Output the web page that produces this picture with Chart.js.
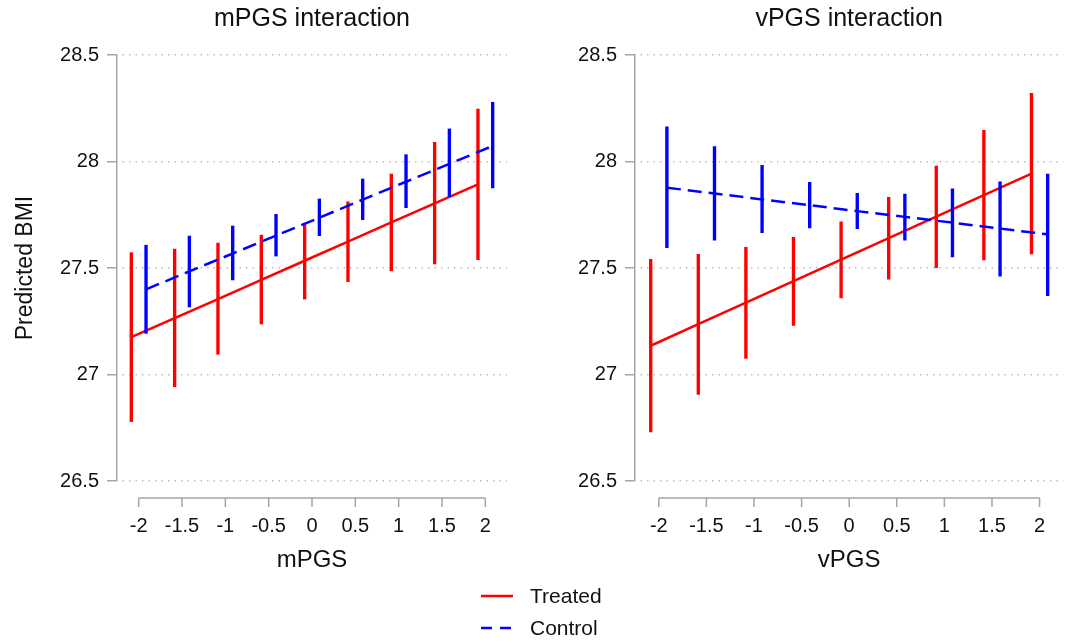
<!DOCTYPE html>
<html>
<head>
<meta charset="utf-8">
<script src="https://cdn.jsdelivr.net/npm/chart.js@4.4.1/dist/chart.umd.min.js"></script>
<style>
  body { margin: 0; background: #fff; width: 1079px; height: 643px; overflow: hidden; position: relative;
         font-family: "Liberation Sans", Arial, sans-serif; }
  #left { position: absolute; left: 0; top: 0; }
  #right { position: absolute; left: 540px; top: 0; }
  #legend { position: absolute; left: 481px; top: 580px; font-size: 21px; color: #111; }
  .item { display: flex; align-items: center; height: 32px; }
  .item svg { margin-right: 17px; }
</style>
</head>
<body>
<canvas id="left" width="540" height="643"></canvas>
<canvas id="right" width="539" height="643"></canvas>
<div id="legend">
  <div class="item"><svg width="32" height="4"><line x1="0" y1="2" x2="32" y2="2" stroke="#ff0000" stroke-width="2.5"/></svg>Treated</div>
  <div class="item"><svg width="32" height="4"><line x1="0" y1="2" x2="32" y2="2" stroke="#0000ff" stroke-width="2.5" stroke-dasharray="11 8"/></svg>Control</div>
</div>
<script>
// x positions (PGS, SD units) and axis ticks
const pgsTicks = [-2, -1.5, -1, -0.5, 0, 0.5, 1, 1.5, 2];
const yTicks = [26.5, 27, 27.5, 28, 28.5];
const dodge = 0.085; // treated drawn a bit left, control a bit right

// mPGS panel
const mTreated   = [27.175, 27.265, 27.354, 27.444, 27.534, 27.624, 27.714, 27.803, 27.893];
const mTreatedLo = [26.779, 26.943, 27.095, 27.237, 27.354, 27.436, 27.487, 27.519, 27.539];
const mTreatedHi = [27.572, 27.589, 27.617, 27.654, 27.710, 27.811, 27.941, 28.090, 28.246];
const mControl   = [27.400, 27.484, 27.568, 27.652, 27.736, 27.821, 27.905, 27.989, 28.073];
const mControlLo = [27.193, 27.317, 27.444, 27.556, 27.652, 27.727, 27.783, 27.835, 27.876];
const mControlHi = [27.607, 27.650, 27.697, 27.752, 27.824, 27.918, 28.032, 28.153, 28.278];

// vPGS panel
const vTreated   = [27.135, 27.236, 27.337, 27.438, 27.539, 27.640, 27.741, 27.842, 27.943];
const vTreatedLo = [26.730, 26.907, 27.076, 27.231, 27.359, 27.448, 27.502, 27.538, 27.566];
const vTreatedHi = [27.541, 27.564, 27.597, 27.644, 27.717, 27.832, 27.979, 28.146, 28.320];
const vControl   = [27.877, 27.850, 27.822, 27.795, 27.767, 27.740, 27.713, 27.685, 27.658];
const vControlLo = [27.595, 27.631, 27.666, 27.688, 27.685, 27.631, 27.552, 27.462, 27.370];
const vControlHi = [28.163, 28.070, 27.982, 27.902, 27.851, 27.847, 27.872, 27.905, 27.941];

const RED = '#ff0000', BLUE = '#0000ff', AXIS = '#a6a6a6', TEXT = '#111';
const FONT = '"Liberation Sans", Arial, sans-serif';

// stata style x axis: detached line below the plot, only from -2 to 2
const xAxisLine = {
  id: 'xAxisLine',
  afterDraw(chart) {
    const {ctx, chartArea} = chart;
    const x = chart.scales.x;
    const y0 = chartArea.bottom + 17;
    ctx.save();
    ctx.strokeStyle = AXIS;
    ctx.lineWidth = 1.5;
    ctx.beginPath();
    ctx.moveTo(x.getPixelForValue(pgsTicks[0]), y0);
    ctx.lineTo(x.getPixelForValue(pgsTicks[pgsTicks.length - 1]), y0);
    pgsTicks.forEach(v => {
      const px = x.getPixelForValue(v);
      ctx.moveTo(px, y0);
      ctx.lineTo(px, y0 + 9);
    });
    ctx.stroke();
    ctx.restore();
  }
};

function ciBars(lo, hi, color, shift, order) {
  return {
    type: 'bar',
    data: pgsTicks.map((x, i) => ({x: x + shift, y: [lo[i], hi[i]]})),
    backgroundColor: color,
    barThickness: 2.7,
    borderWidth: 0,
    grouped: false,
    order: order
  };
}

function fitLine(vals, color, shift, dash, order) {
  return {
    type: 'line',
    data: pgsTicks.map((x, i) => ({x: x + shift, y: vals[i]})),
    borderColor: color,
    borderWidth: 2.5,
    borderDash: dash,
    pointRadius: 0,
    fill: false,
    tension: 0,
    order: order
  };
}

function makePanel(id, title, xTitle, d, yWidth, padRight, yTitle) {
  new Chart(document.getElementById(id), {
    type: 'line',
    data: {
      datasets: [
        fitLine(d.c, BLUE, dodge, [14, 7], 0),
        ciBars(d.clo, d.chi, BLUE, dodge, 1),
        fitLine(d.t, RED, -dodge, [], 2),
        ciBars(d.tlo, d.thi, RED, -dodge, 3)
      ]
    },
    options: {
      responsive: false,
      animation: false,
      layout: { padding: { left: 0, right: padRight, top: 0, bottom: 62 } },
      plugins: {
        legend: { display: false },
        tooltip: { enabled: false },
        title: {
          display: true, text: title, fullSize: false, color: TEXT,
          font: { family: FONT, size: 25, weight: 'normal' },
          padding: { top: 4, bottom: 21 }
        }
      },
      scales: {
        x: {
          type: 'linear', min: -2.25, max: 2.25, offset: false,
          afterBuildTicks: s => { s.ticks = pgsTicks.map(v => ({value: v})); },
          afterFit: s => { s.height = 100; },
          grid: { display: false, drawTicks: false },
          border: { display: false },
          ticks: { color: TEXT, font: { family: FONT, size: 20 }, padding: 33, maxRotation: 0,
                   callback: v => String(v) },
          title: { display: true, text: xTitle, color: TEXT, font: { family: FONT, size: 24 },
                   padding: { top: 0, bottom: 6 } }
        },
        y: {
          min: 26.5, max: 28.5,
          afterBuildTicks: s => { s.ticks = yTicks.map(v => ({value: v})); },
          afterFit: s => { s.width = yWidth; },
          grid: { color: '#bdbdbd', lineWidth: 1.5,
                  tickColor: AXIS, tickBorderDash: [], tickLength: 10, tickWidth: 1.5 },
          border: { display: true, color: AXIS, width: 1.5, dash: [1.5, 5], dashOffset: -5 },
          ticks: { color: TEXT, font: { family: FONT, size: 20 }, padding: 8,
                   callback: v => String(v) },
          title: { display: yTitle, text: 'Predicted BMI', color: TEXT,
                   font: { family: FONT, size: 23 }, padding: { top: 12, bottom: 0 } }
        }
      }
    },
    plugins: [xAxisLine]
  });
}

makePanel('left', 'mPGS interaction', 'mPGS',
  { t: mTreated, tlo: mTreatedLo, thi: mTreatedHi, c: mControl, clo: mControlLo, chi: mControlHi },
  117, 33, true);
makePanel('right', 'vPGS interaction', 'vPGS',
  { t: vTreated, tlo: vTreatedLo, thi: vTreatedHi, c: vControl, clo: vControlLo, chi: vControlHi },
  95, 9, false);
</script>
</body>
</html>
